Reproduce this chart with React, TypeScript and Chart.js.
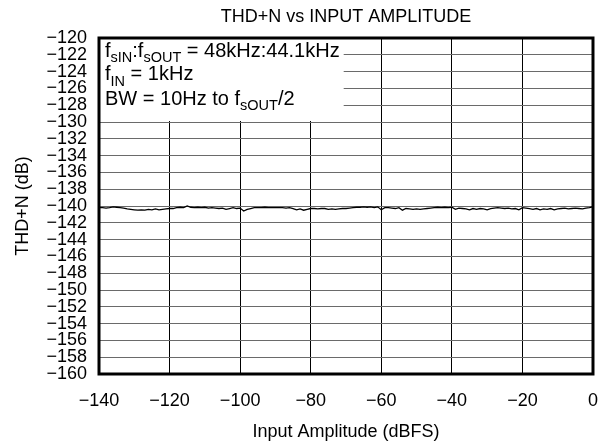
import React, { useEffect, useRef } from "react";
import { Chart, registerables } from "chart.js";

Chart.register(...registerables);

const titleText = "THD+N vs INPUT AMPLITUDE";
const xTitle = "Input Amplitude (dBFS)";
const yTitle = "THD+N (dB)";
const xMin = -140;
const xMax = 0;
const yMin = -160;
const yMax = -120;

// Input amplitude (dBFS), 1 dB steps from -140 to 0
const inputAmplitude: number[] = [];
for (let v = -140; v <= 0; v += 1) inputAmplitude.push(v);

// THD+N (dB)
const thdN: number[] = [
  -140.2, -140.2, -140.25, -140.2, -140.1, -140.15, -140.2, -140.25, -140.35, -140.4,
  -140.45, -140.5, -140.45, -140.5, -140.4, -140.45, -140.35, -140.45, -140.4, -140.35,
  -140.3, -140.3, -140.2, -140.15, -140.2, -140.0, -140.15, -140.2, -140.15, -140.2,
  -140.15, -140.25, -140.2, -140.25, -140.3, -140.25, -140.4, -140.3, -140.2, -140.3,
  -140.25, -140.6, -140.4, -140.3, -140.2, -140.2, -140.2, -140.15, -140.2, -140.2,
  -140.2, -140.2, -140.2, -140.25, -140.2, -140.3, -140.45, -140.35, -140.5, -140.4,
  -140.3, -140.3, -140.35, -140.3, -140.3, -140.4, -140.35, -140.4, -140.35, -140.3,
  -140.3, -140.25, -140.2, -140.15, -140.15, -140.1, -140.15, -140.1, -140.2, -140.1,
  -140.45, -140.2, -140.2, -140.25, -140.3, -140.2, -140.5, -140.3, -140.35, -140.4,
  -140.35, -140.4, -140.35, -140.3, -140.25, -140.2, -140.15, -140.2, -140.15, -140.2,
  -140.15, -140.4, -140.25, -140.3, -140.35, -140.45, -140.3, -140.4, -140.3, -140.35,
  -140.45, -140.3, -140.25, -140.2, -140.25, -140.3, -140.25, -140.35, -140.3, -140.45,
  -140.2, -140.25, -140.3, -140.4, -140.3, -140.45, -140.35, -140.4, -140.3, -140.45,
  -140.35, -140.3, -140.25, -140.35, -140.3, -140.25, -140.3, -140.35, -140.25, -140.2,
  -140.1,
];

type Seg = { t: string; sub?: boolean };
const noteLines: Seg[][] = [
  [{ t: "f" }, { t: "sIN", sub: true }, { t: ":f" }, { t: "sOUT", sub: true }, { t: " = 48kHz:44.1kHz" }],
  [{ t: "f" }, { t: "IN", sub: true }, { t: " = 1kHz" }],
  [{ t: "BW = 10Hz to f" }, { t: "sOUT", sub: true }, { t: "/2" }],
];
const noteLineValues = [-121.6, -124.4, -127.3];

const FONT = "'Liberation Sans', Arial, sans-serif";

const notePlugin = {
  id: "notePlugin",
  beforeDatasetsDraw(chart: any) {
    const { ctx, chartArea, scales } = chart;
    const y130 = scales.y.getPixelForValue(-130);
    const mainSize = 20;
    const subSize = 14.5;
    ctx.save();
    let maxW = 0;
    noteLines.forEach((line) => {
      let w = 0;
      line.forEach((seg) => {
        ctx.font = `${seg.sub ? subSize : mainSize}px ${FONT}`;
        w += ctx.measureText(seg.t).width;
      });
      maxW = Math.max(maxW, w);
    });
    const x0 = chartArea.left + 6;
    ctx.fillStyle = "#ffffff";
    ctx.fillRect(chartArea.left, chartArea.top, x0 + maxW + 4 - chartArea.left, y130 - chartArea.top - 1);
    ctx.fillStyle = "#000000";
    ctx.textBaseline = "middle";
    ctx.textAlign = "left";
    noteLines.forEach((line, i) => {
      let x = x0;
      const yc = scales.y.getPixelForValue(noteLineValues[i]);
      line.forEach((seg) => {
        if (seg.sub) {
          ctx.font = `${subSize}px ${FONT}`;
          ctx.fillText(seg.t, x, yc + 7);
        } else {
          ctx.font = `${mainSize}px ${FONT}`;
          ctx.fillText(seg.t, x, yc);
        }
        x += ctx.measureText(seg.t).width;
      });
    });
    ctx.restore();
  },
  afterDatasetsDraw(chart: any) {
    const { ctx, chartArea } = chart;
    ctx.save();
    ctx.strokeStyle = "#000000";
    ctx.lineWidth = 3;
    ctx.strokeRect(chartArea.left, chartArea.top, chartArea.right - chartArea.left, chartArea.bottom - chartArea.top);
    ctx.restore();
  },
};

export default function App() {
  const canvasRef = useRef<HTMLCanvasElement>(null);

  useEffect(() => {
    if (!canvasRef.current) return;
    const points = inputAmplitude.map((x, i) => ({ x, y: thdN[i] }));
    const chart = new Chart(canvasRef.current, {
      type: "line",
      data: {
        datasets: [
          {
            data: points,
            borderColor: "#000000",
            borderWidth: 1.3,
            pointRadius: 0,
            tension: 0,
            fill: false,
          },
        ],
      },
      options: {
        animation: false,
        responsive: true,
        maintainAspectRatio: false,
        layout: { padding: { left: 0, right: 18, top: 0, bottom: 0 } },
        plugins: {
          legend: { display: false },
          tooltip: { enabled: false },
          title: {
            display: true,
            fullSize: false,
            text: titleText,
            color: "#000000",
            font: { family: FONT, size: 18, weight: "normal", lineHeight: 1.2 },
            padding: { top: 6.2, bottom: 10.2 },
          },
        },
        scales: {
          x: {
            type: "linear",
            min: xMin,
            max: xMax,
            border: { display: false },
            grid: { color: "#000000", lineWidth: 1, drawTicks: false },
            ticks: {
              stepSize: 20,
              padding: 16,
              color: "#000000",
              font: { family: FONT, size: 18 },
              maxRotation: 0,
              callback: (v: any) => String(v).replace("-", "\u2212"),
            },
            title: {
              display: true,
              text: xTitle,
              color: "#000000",
              font: { family: FONT, size: 18, lineHeight: 1.2 },
              padding: { top: 10, bottom: 1.2 },
            },
            afterFit: (s: any) => {
              s.height = 70;
            },
          },
          y: {
            type: "linear",
            min: yMin,
            max: yMax,
            border: { display: false },
            grid: { color: "#6a6a6a", lineWidth: 1, drawTicks: false },
            ticks: {
              stepSize: 2,
              padding: 12,
              color: "#000000",
              font: { family: FONT, size: 18, lineHeight: 1 },
              autoSkip: false,
              callback: (v: any) => String(v).replace("-", "\u2212"),
            },
            title: {
              display: true,
              text: yTitle,
              color: "#000000",
              font: { family: FONT, size: 18, lineHeight: 1.2 },
              padding: { top: 12.2, bottom: 0 },
            },
            afterFit: (s: any) => {
              s.width = 99;
            },
          },
        },
      },
      plugins: [notePlugin],
    });
    return () => chart.destroy();
  }, []);

  return (
    <div style={{ position: "fixed", left: 0, top: 0, width: 614, height: 444, background: "#fff" }}>
      <canvas ref={canvasRef} />
    </div>
  );
}
